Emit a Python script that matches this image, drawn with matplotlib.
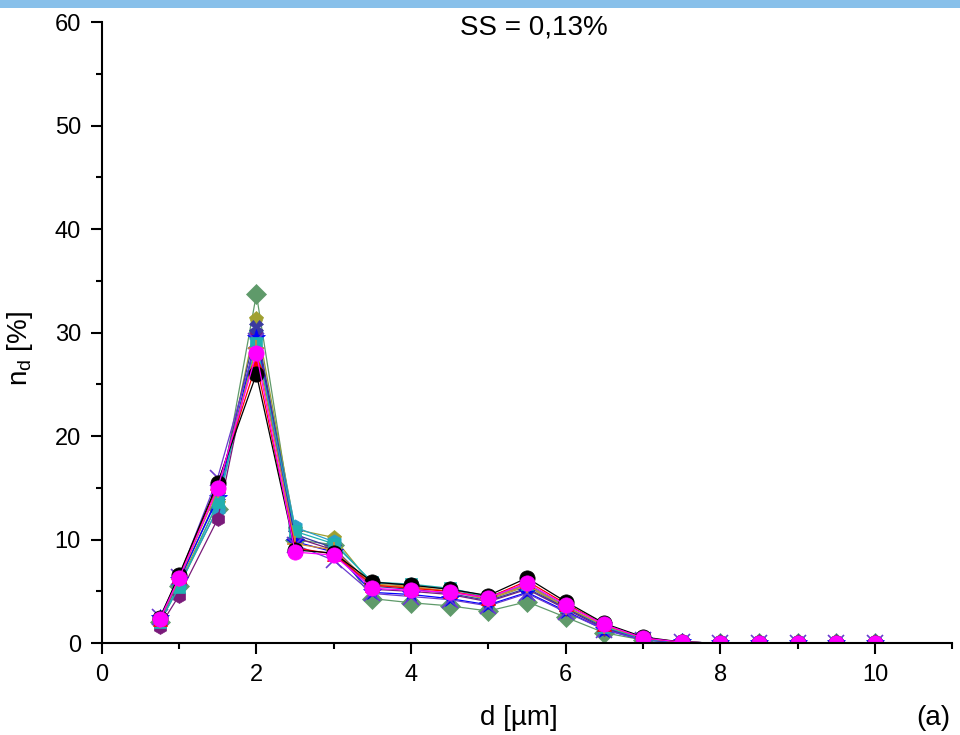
import matplotlib
matplotlib.use("Agg")
import matplotlib.pyplot as plt
from matplotlib.ticker import MultipleLocator
from matplotlib.patches import Rectangle

plt.rcParams['font.family'] = ['Liberation Sans', 'DejaVu Sans']
plt.rcParams['mathtext.default'] = 'regular'

d_um = [0.75, 1, 1.5, 2, 2.5, 3, 3.5, 4, 4.5, 5, 5.5, 6, 6.5, 7, 7.5, 8, 8.5, 9, 9.5, 10]

series_green   = [2.0, 5.5, 13.0, 33.7, 10.0, 9.5, 4.3, 3.9, 3.6, 3.1, 4.0, 2.5, 1.0, 0.3, 0.0, 0.0, 0.0, 0.0, 0.0, 0.0]
series_olive   = [2.2, 5.8, 13.5, 31.3, 11.0, 10.2, 5.6, 5.4, 5.0, 4.2, 5.5, 3.4, 1.6, 0.4, 0.1, 0.0, 0.0, 0.0, 0.0, 0.0]
series_teal    = [2.1, 5.6, 13.0, 29.8, 11.2, 9.8, 5.8, 5.6, 5.2, 4.4, 5.6, 3.5, 1.5, 0.4, 0.1, 0.0, 0.0, 0.0, 0.0, 0.0]
series_purple  = [1.6, 4.6, 12.0, 30.0, 10.2, 9.0, 5.2, 5.0, 4.7, 4.0, 5.2, 3.3, 1.4, 0.4, 0.1, 0.0, 0.0, 0.0, 0.0, 0.0]
series_navy    = [2.3, 6.0, 14.2, 30.5, 10.5, 9.2, 5.5, 5.2, 4.8, 4.1, 5.3, 3.4, 1.5, 0.4, 0.1, 0.0, 0.0, 0.0, 0.0, 0.0]
series_blue    = [2.4, 6.1, 14.0, 29.5, 9.8, 8.8, 4.9, 4.7, 4.3, 3.7, 4.9, 3.1, 1.3, 0.3, 0.1, 0.0, 0.0, 0.0, 0.0, 0.0]
series_violet  = [2.5, 6.4, 16.0, 29.2, 9.5, 8.0, 4.8, 4.5, 4.2, 3.6, 4.8, 3.0, 1.3, 0.3, 0.1, 0.0, 0.0, 0.0, 0.0, 0.0]
series_cyan    = [2.0, 5.4, 13.6, 29.0, 10.8, 9.6, 5.9, 5.7, 5.3, 4.5, 5.7, 3.6, 1.6, 0.4, 0.1, 0.0, 0.0, 0.0, 0.0, 0.0]
series_orange  = [2.2, 6.2, 14.8, 28.5, 9.6, 9.0, 5.7, 5.5, 5.0, 4.3, 5.6, 3.5, 1.7, 0.5, 0.1, 0.0, 0.0, 0.0, 0.0, 0.0]
series_red     = [2.3, 6.5, 15.3, 27.0, 9.2, 8.6, 5.6, 5.3, 5.0, 4.4, 6.0, 3.8, 1.8, 0.5, 0.1, 0.0, 0.0, 0.0, 0.0, 0.0]
series_black   = [2.4, 6.6, 15.5, 26.0, 9.0, 8.7, 5.9, 5.6, 5.2, 4.6, 6.3, 4.0, 1.9, 0.6, 0.1, 0.0, 0.0, 0.0, 0.0, 0.0]
series_magenta = [2.3, 6.3, 15.0, 28.0, 8.8, 8.5, 5.3, 5.1, 4.9, 4.4, 5.8, 3.7, 1.8, 0.5, 0.1, 0.0, 0.0, 0.0, 0.0, 0.0]

styles = [
    (series_green,   '#5f9a6a', 'D', 10),
    (series_olive,   '#a0a030', 'p', 11),
    (series_teal,    '#2aa0c8', 'h', 11),
    (series_purple,  '#7a1a7a', 'h', 10),
    (series_navy,    '#3a3aa0', 'X', 10),
    (series_blue,    '#0000ff', '*', 13),
    (series_violet,  '#6a3ad0', 'x', 11),
    (series_cyan,    '#20b0b0', 's', 9),
    (series_orange,  '#d08a30', '+', 11),
    (series_red,     '#ff0000', '^', 10),
    (series_black,   '#000000', 'o', 11),
    (series_magenta, '#ff00ff', 'o', 11),
]

fig = plt.figure(figsize=(9.6, 7.35), dpi=100)
ax = fig.add_axes([0.106, 0.125, 0.886, 0.845])

for vals, col, mk, ms in styles:
    ax.plot(d_um, vals, color=col, marker=mk, markersize=ms, linewidth=0.9,
            markeredgewidth=1.2 if mk in ('x', '+') else 0.5, markeredgecolor=col)

ax.set_xlim(0, 11)
ax.set_ylim(0, 60)
ax.xaxis.set_major_locator(MultipleLocator(2))
ax.xaxis.set_minor_locator(MultipleLocator(1))
ax.yaxis.set_major_locator(MultipleLocator(10))
ax.yaxis.set_minor_locator(MultipleLocator(5))
ax.spines['top'].set_visible(False)
ax.spines['right'].set_visible(False)
for s in ('left', 'bottom'):
    ax.spines[s].set_linewidth(1.5)
ax.tick_params(which='major', direction='out', length=8, width=1.5, labelsize=17, pad=7)
ax.tick_params(which='minor', direction='out', length=4, width=1.5)
ax.set_xticks([0, 2, 4, 6, 8, 10])

ax.set_xlabel('d [µm]', fontsize=20, va='center')
ax.xaxis.set_label_coords(0.49, -0.121)
ax.set_ylabel('n$_d$ [%]', fontsize=20, va='center')
ax.yaxis.set_label_coords(-0.096, 0.475)

fig.text(0.556, 0.962, 'SS = 0,13%', fontsize=20, ha='center', va='center')
fig.text(0.99, 0.023, '(a)', fontsize=20, ha='right', va='center')

fig.patches.append(Rectangle((0, 0.989), 1, 0.011, transform=fig.transFigure,
                             facecolor='#88c0ea', edgecolor='none'))

fig.savefig('out.png', dpi=100)
